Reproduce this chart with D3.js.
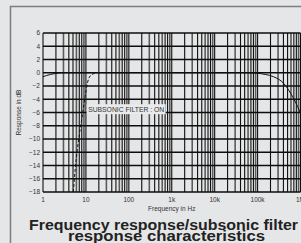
<!DOCTYPE html>
<html>
<head>
<meta charset="utf-8">
<script src="https://cdn.jsdelivr.net/npm/d3@7"></script>
<style>
  html, body { margin: 0; padding: 0; background: #e5e6e7; overflow: hidden; }
  svg { display: block; font-family: "Liberation Sans", Arial, sans-serif; }
</style>
</head>
<body>
<svg id="chart"></svg>
<script>
// Frequency response without filter (Hz, dB)
const flatFreq = [1, 1.5, 2, 3, 10, 1000, 50000, 89000, 150000, 236000, 405000, 590000, 855000, 1000000];
const flatDb   = [-0.6, -0.25, -0.1, 0, 0, 0, 0, -0.05, -0.25, -0.6, -1.6, -3.1, -5.1, -6.1];

// Subsonic filter on (dashed)
const subFreq = [5.1, 5.6, 6.3, 7.3, 8.4, 9.6, 10.8, 12.5, 15, 18];
const subDb   = [-18, -14.7, -11.7, -8.6, -6.1, -3.6, -1.6, -0.5, -0.15, 0];

const yTicks = [6, 4, 2, 0, -2, -4, -6, -8, -10, -12, -14, -16, -18];
const xTicks = [1, 10, 100, 1000, 10000, 100000, 1000000];
const xTickLabels = ["1", "10", "100", "1k", "10k", "100k", "1M"];

const width = 301, height = 243;
const margin = { top: 33, left: 43, right: 0.5, bottom: 51 };

const svg = d3.select("#chart").attr("width", width).attr("height", height);

// outer frame
svg.append("path")
    .attr("d", `M10.5,${height} V6.5 H${width}`)
    .attr("fill", "none")
    .attr("stroke", "#7d7d7d")
    .attr("stroke-width", 1.5);

const x = d3.scaleLog()
    .domain([1, 1000000])
    .range([margin.left, width - margin.right]);

const y = d3.scaleLinear()
    .domain([-18, 6])
    .range([height - margin.bottom, margin.top]);

// vertical grid: every 1..9 x decade
const vLines = [];
for (let k = 0; k < 6; k++) {
    for (let m = 1; m <= 9; m++) vLines.push(m * Math.pow(10, k));
}
vLines.push(1000000);

const grid = svg.append("g");
grid.selectAll(".v").data(vLines).enter().append("line")
    .attr("x1", d => x(d)).attr("x2", d => x(d))
    .attr("y1", y(6)).attr("y2", y(-18))
    .attr("stroke", (d, i) => (i % 3 === 2 ? "#5c5c5c" : "#101010"))
    .attr("stroke-width", (d, i) => (i % 3 === 2 ? 1.6 : 1.1));

grid.selectAll(".h").data(yTicks).enter().append("line")
    .attr("x1", x(1)).attr("x2", x(1000000))
    .attr("y1", d => y(d)).attr("y2", d => y(d))
    .attr("stroke", "#0d0d0d")
    .attr("stroke-width", 1.4);

// y tick labels
svg.append("g").selectAll("text").data(yTicks).enter().append("text")
    .attr("x", margin.left - 3)
    .attr("y", d => y(d))
    .attr("dy", "0.35em")
    .attr("text-anchor", "end")
    .attr("font-size", 6.5)
    .attr("fill", "#333")
    .text(d => (d < 0 ? "\u2212" + Math.abs(d) : d));

// x tick labels
svg.append("g").selectAll("text").data(xTicks).enter().append("text")
    .attr("x", d => x(d))
    .attr("y", y(-18) + 10)
    .attr("text-anchor", "middle")
    .attr("font-size", 6.5)
    .attr("fill", "#333")
    .text((d, i) => xTickLabels[i]);

// axis titles
svg.append("text")
    .attr("x", (x(1) + x(1000000)) / 2)
    .attr("y", y(-18) + 19)
    .attr("text-anchor", "middle")
    .attr("font-size", 6.5)
    .attr("fill", "#333")
    .text("Frequency in Hz");

svg.append("text")
    .attr("transform", `translate(21,${y(-6)}) rotate(-90)`)
    .attr("text-anchor", "middle")
    .attr("font-size", 6.5)
    .attr("fill", "#333")
    .text("Response in dB");

// curves
const line = d3.line()
    .x(d => x(d[0]))
    .y(d => y(d[1]))
    .curve(d3.curveMonotoneX);

svg.append("path")
    .datum(d3.zip(flatFreq, flatDb))
    .attr("fill", "none")
    .attr("stroke", "#111")
    .attr("stroke-width", 1)
    .attr("d", line);

// label
const lab = svg.append("g").attr("transform", `translate(${x(10.4)},${y(-5.5)})`);
lab.append("rect")
    .attr("x", 0).attr("y", -5)
    .attr("width", 79).attr("height", 10)
    .attr("fill", "#e8e9ea");
lab.append("text")
    .attr("x", 1.5)
    .attr("dy", "0.35em")
    .attr("font-size", 7)
    .attr("fill", "#333")
    .attr("textLength", 76)
    .attr("lengthAdjust", "spacingAndGlyphs")
    .text("SUBSONIC FILTER : ON");

svg.append("path")
    .datum(d3.zip(subFreq, subDb))
    .attr("fill", "none")
    .attr("stroke", "#111")
    .attr("stroke-width", 1)
    .attr("stroke-dasharray", "3,2")
    .attr("d", line);

// title
const title = svg.append("text")
    .attr("font-weight", "bold")
    .attr("font-size", 14)
    .attr("fill", "#222");
title.append("tspan").attr("x", 29).attr("y", 229.5)
    .attr("textLength", 269).attr("lengthAdjust", "spacingAndGlyphs")
    .text("Frequency response/subsonic filter");
title.append("tspan").attr("x", 68).attr("y", 241)
    .attr("textLength", 197).attr("lengthAdjust", "spacingAndGlyphs")
    .text("response characteristics");
</script>
</body>
</html>
